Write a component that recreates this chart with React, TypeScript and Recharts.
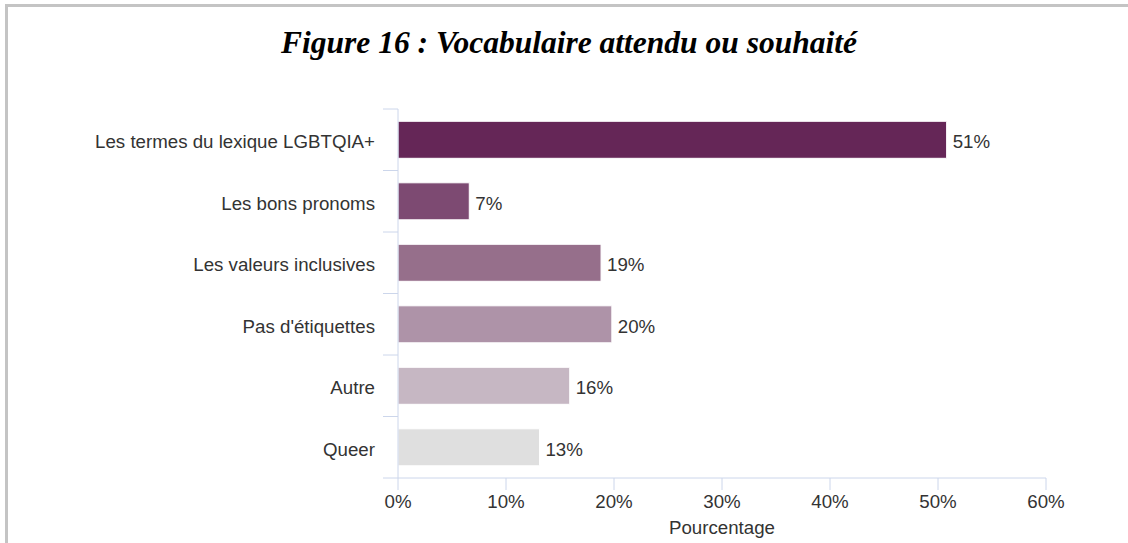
import React from 'react';
import { Bar, BarChart, Cell, LabelList, XAxis, YAxis } from 'recharts';

const categories = [
    'Les termes du lexique LGBTQIA+',
    'Les bons pronoms',
    'Les valeurs inclusives',
    "Pas d'étiquettes",
    'Autre',
    'Queer',
];
const percentages = [50.8, 6.6, 18.8, 19.8, 15.9, 13.1];
const barColors = ['#652657', '#7d4a72', '#966f8b', '#ae93a8', '#c6b7c3', '#dfdfdf'];
const xTicks = [0, 10, 20, 30, 40, 50, 60];

const data = categories.map((name, i) => ({ name, value: percentages[i] }));

const axisColor = '#ccd6eb';
const textStyle = { fontFamily: 'Liberation Sans, Arial, sans-serif', fontSize: 18.7, fill: '#333' };

// category tick: label plus a tick line on the band's edges (highcharts style)
const CategoryTick = (props: any) => {
    const { x, y, payload, index } = props;
    const half = payload && payload.offset ? payload.offset : 0;
    const lx1 = x + 8;
    const lx2 = x + 23;
    return (
        <g>
            <line x1={lx1} x2={lx2} y1={y - half} y2={y - half} stroke={axisColor} />
            {index === categories.length - 1 && (
                <line x1={lx1} x2={lx2} y1={y + half} y2={y + half} stroke={axisColor} />
            )}
            <text x={x} y={y} dy="0.45em" textAnchor="end" {...textStyle}>
                {payload.value}
            </text>
        </g>
    );
};

export default function App() {
    return (
        <div style={{ position: 'absolute', left: 0, top: 0, width: 1128, height: 543, background: '#fff' }}>
            <svg width={1128} height={543} style={{ position: 'absolute', left: 0, top: 0 }}>
                <rect x={5} y={4} width={1123} height={3} fill="#c4c4c4" />
                <rect x={5} y={4} width={3} height={539} fill="#c4c4c4" />
                <text
                    x={569}
                    y={53}
                    textAnchor="middle"
                    fontFamily="Liberation Serif, Times New Roman, serif"
                    fontWeight="bold"
                    fontStyle="italic"
                    fontSize={31.5}
                    fill="#000"
                >
                    Figure 16 : Vocabulaire attendu ou souhaité
                </text>
            </svg>
            <div style={{ position: 'absolute', left: 0, top: 0 }}>
                <BarChart
                    width={1128}
                    height={543}
                    data={data}
                    layout="vertical"
                    barCategoryGap="20%"
                    margin={{ top: 109, right: 82, bottom: 0, left: 0 }}
                >
                    <YAxis
                        type="category"
                        dataKey="name"
                        width={398}
                        tickSize={15}
                        tickMargin={8}
                        tickLine={false}
                        axisLine={{ stroke: axisColor }}
                        tick={<CategoryTick />}
                        interval={0}
                    />
                    <XAxis
                        type="number"
                        domain={[0, 60]}
                        ticks={xTicks}
                        height={65}
                        tickSize={12}
                        tickMargin={5}
                        tickFormatter={(v: number) => `${v}%`}
                        tick={textStyle}
                        stroke={axisColor}
                        tickLine={{ stroke: axisColor }}
                        axisLine={{ stroke: axisColor }}
                        label={{ value: 'Pourcentage', position: 'insideBottom', offset: 9, style: textStyle }}
                    />
                    <Bar dataKey="value" stroke="#fff" strokeWidth={1} isAnimationActive={false}>
                        {data.map((d, i) => (
                            <Cell key={d.name} fill={barColors[i]} />
                        ))}
                        <LabelList
                            dataKey="value"
                            position="right"
                            offset={6}
                            dy={2}
                            formatter={(v: number) => `${Math.round(v)}%`}
                            style={textStyle}
                        />
                    </Bar>
                </BarChart>
            </div>
        </div>
    );
}
